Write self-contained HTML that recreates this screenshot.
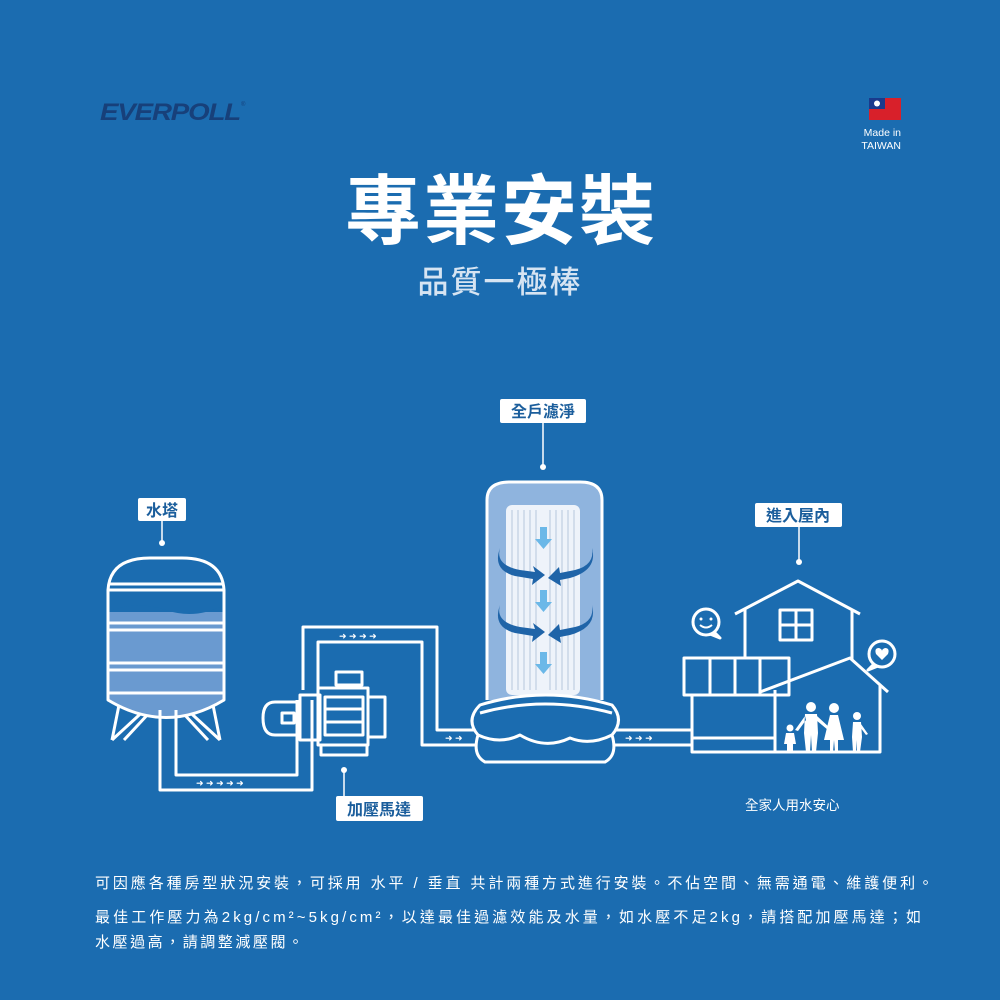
<!DOCTYPE html>
<html><head><meta charset="utf-8"><style>
body{margin:0;width:1000px;height:1000px;background:#1b6cb0;overflow:hidden;font-family:"Liberation Sans","Noto Sans CJK TC",sans-serif;}
svg{position:absolute;left:0;top:0}
</style></head><body>
<svg width="1000" height="1000" viewBox="0 0 1000 1000" font-family="Liberation Sans, Noto Sans CJK TC, sans-serif">
<rect width="1000" height="1000" fill="#1b6cb0"/>
<!-- logo -->
<text x="100" y="120" font-size="24" font-weight="bold" font-style="italic" fill="#17407a" letter-spacing="-1" textLength="140" lengthAdjust="spacingAndGlyphs">EVERPOLL</text>
<text x="241" y="106" font-size="6" fill="#17407a">®</text>
<!-- flag -->
<rect x="869" y="98" width="32" height="22" fill="#d8202a"/>
<rect x="869" y="98" width="16" height="11" fill="#1a3a8c"/>
<circle cx="877" cy="103.5" r="3" fill="#fff"/>
<text x="901" y="136" font-size="10.5" fill="#fff" text-anchor="end">Made in</text>
<text x="901" y="149" font-size="10.5" fill="#fff" text-anchor="end">TAIWAN</text>
<!-- titles -->
<text x="501" y="238" font-size="76" font-weight="bold" fill="#fff" text-anchor="middle" letter-spacing="2">專業安裝</text>
<text x="500" y="293" font-size="31" font-weight="500" fill="#d6e4f2" text-anchor="middle" letter-spacing="2">品質一極棒</text>

<g stroke="#fff" stroke-width="3" fill="none" stroke-linejoin="round">
<!-- tank -->
<path d="M112 740 L120 700 M220 740 L212 700 M112 740 L150 705 M220 740 L182 705 M124 740 L150 712 M208 740 L182 712" />
<path d="M108 612 L108 700 Q166 735 224 700 L224 612" fill="#6a9ad0" stroke="none"/>
<path d="M108 612 Q135 600 166 610 Q195 620 224 605 L224 590 L108 590Z" fill="#1b6cb0" stroke="none"/>
<path d="M108 590 Q110 558 150 558 L182 558 Q222 558 224 590 L224 700 Q166 735 108 700 Z"/>
<path d="M108 584 L224 584 M108 590 L224 590 M108 623 L224 623 M108 630 L224 630 M108 663 L224 663 M108 670 L224 670 M108 693 L224 693"/>
<!-- pipe tank->pump -->
<path d="M160 710 L160 790 L312 790 L312 700 M176 710 L176 775 L297 775 L297 700" fill="none"/>
<!-- pump -->
<path d="M275 702 L300 702 L300 735 L275 735 Q263 735 263 718 Q263 702 275 702Z"/>
<rect x="282" y="713" width="12" height="10"/>
<rect x="300" y="695" width="20" height="45"/>
<rect x="318" y="688" width="50" height="57"/>
<rect x="368" y="697" width="17" height="40"/>
<rect x="325" y="697" width="38" height="38"/>
<path d="M325 709 L363 709 M325 722 L363 722"/>
<rect x="321" y="745" width="46" height="10"/>
<rect x="336" y="672" width="26" height="13"/>
<path d="M341 685 L341 688 M357 685 L357 688"/>
<!-- pipe pump->filter -->
<path d="M303 690 L303 627 L437 627 L437 730 L485 730 M318 690 L318 642 L422 642 L422 745 L485 745"/>
<!-- pipe filter->house -->
<path d="M612 730 L692 730 M612 745 L692 745"/>
<!-- filter -->
<path d="M487 700 L487 500 Q487 482 510 482 L580 482 Q602 482 602 500 L602 700" fill="#8fb4de"/>
<rect x="506" y="505" width="74" height="190" rx="6" fill="#eef3fa" stroke="none"/>
<path d="M480 705 Q545 685 612 705 Q625 720 612 735 Q618 755 605 762 L485 762 Q472 755 478 735 Q465 720 480 705Z" fill="#1b6cb0"/>
<path d="M480 713 Q545 695 612 713 M478 735 Q500 745 520 735 Q545 750 570 738 Q590 746 612 735"/>
<!-- house -->
<path d="M735 614 L798 581 L860 614 M745 609 L745 658 M852 609 L852 660"/>
<rect x="780" y="610" width="32" height="30"/>
<path d="M796 610 L796 640 M780 625 L812 625"/>
<rect x="684" y="658" width="105" height="37"/>
<path d="M710 658 L710 695 M735 658 L735 695 M760 658 L760 695"/>
<path d="M692 695 L692 752 L775 752 M692 738 L775 738"/>
<path d="M760 692 L850 658 L888 692 M775 690 L775 752 L880 752 L880 685"/>
<circle cx="706" cy="622" r="13"/><path d="M714 632 L720 638 L710 634"/>
<circle cx="882" cy="654" r="13"/><path d="M874 664 L868 670 L878 666"/>
</g>
<g fill="#fff">
<circle cx="701" cy="619" r="1.5"/><circle cx="711" cy="619" r="1.5"/>
<path d="M700 625 Q706 630 712 625" stroke="#fff" stroke-width="2" fill="none"/>
<path d="M882 660 L876 654 Q874 648 879 648 Q882 649 882 651 Q882 649 885 648 Q890 648 888 654Z"/>
<!-- family -->
<circle cx="811" cy="707" r="5"/><path d="M805 714 L817 714 L818 733 L816 752 L812 752 L811 735 L810 752 L806 752 L804 733Z M805 716 L795 730 L798 731 L806 720Z M817 716 L830 728 L828 730 L816 720Z"/>
<circle cx="834" cy="708" r="5"/><path d="M830 715 L838 715 L844 740 L838 740 L838 752 L835 752 L834 740 L833 752 L830 752 L830 740 L824 740Z"/>
<circle cx="857" cy="716" r="4"/><path d="M853 722 L861 722 L862 737 L860 752 L857 752 L857 740 L856 752 L853 752 L852 737Z M861 724 L868 734 L866 735 L860 727Z"/>
<circle cx="790" cy="728" r="3.5"/><path d="M786 733 L794 733 L796 744 L793 744 L793 752 L787 752 L787 744 L784 744Z"/>
</g>
<!-- filter stripes -->
<g stroke="#c8d6e6" stroke-width="1.5">
<path d="M512 510 V690 M518 510 V690 M524 510 V690 M530 510 V690 M536 510 V690 M550 510 V690 M556 510 V690 M562 510 V690 M568 510 V690 M574 510 V690"/>
</g>
<!-- down arrows -->
<g fill="#6bb8e8">
<path d="M540 527 h7 v12 h5 l-8.5 10 -8.5-10 h5z"/>
<path d="M540 590 h7 v12 h5 l-8.5 10 -8.5-10 h5z"/>
<path d="M540 652 h7 v12 h5 l-8.5 10 -8.5-10 h5z"/>
</g>
<!-- swirl arrows -->
<g fill="#1f64a8">
<path d="M500 548 Q495 565 520 570 L535 572 L533 566 L545 575 L532 585 L533 579 L515 576 Q492 570 500 548Z"/>
<path d="M592 548 Q598 570 570 578 L560 580 L561 586 L548 578 L559 567 L560 573 L575 570 Q595 565 592 548Z"/>
<path d="M500 605 Q495 622 520 627 L535 629 L533 623 L545 632 L532 642 L533 636 L515 633 Q492 627 500 605Z"/>
<path d="M592 605 Q598 627 570 635 L560 637 L561 643 L548 635 L559 624 L560 630 L575 627 Q595 622 592 605Z"/>
</g>
<!-- flow arrows -->
<g fill="#fff" font-size="9">
<text x="196" y="786">➜ ➜ ➜ ➜ ➜</text>
<text x="339" y="639">➜ ➜ ➜ ➜</text>
<text x="445" y="741">➜ ➜</text>
<text x="625" y="741">➜ ➜ ➜</text>
</g>
<!-- labels -->
<g stroke="#fff" stroke-width="1.5"><path d="M162 520 V543 M543 422 V467 M799 526 V562 M344 770 V796"/></g>
<g fill="#fff"><circle cx="162" cy="543" r="3"/><circle cx="543" cy="467" r="3"/><circle cx="799" cy="562" r="3"/><circle cx="344" cy="770" r="3"/>
<rect x="138" y="498" width="48" height="23" rx="2"/>
<rect x="500" y="399" width="86" height="24" rx="2"/>
<rect x="755" y="503" width="87" height="24" rx="2"/>
<rect x="336" y="796" width="87" height="25" rx="2"/>
</g>
<g fill="#1b5e9c" font-size="16" font-weight="bold" text-anchor="middle">
<text x="162" y="516">水塔</text>
<text x="543" y="417">全戶濾淨</text>
<text x="798" y="521">進入屋內</text>
<text x="379" y="815">加壓馬達</text>
</g>
<text x="745" y="810" font-size="13.5" fill="#fff">全家人用水安心</text>
<g fill="#fff" font-size="15">
<text x="95" y="888" textLength="838" lengthAdjust="spacing">可因應各種房型狀況安裝，可採用 水平 / 垂直 共計兩種方式進行安裝。不佔空間、無需通電、維護便利。</text>
<text x="95" y="922" textLength="826" lengthAdjust="spacing">最佳工作壓力為2kg/cm²~5kg/cm²，以達最佳過濾效能及水量，如水壓不足2kg，請搭配加壓馬達；如</text>
<text x="95" y="947" textLength="208" lengthAdjust="spacing">水壓過高，請調整減壓閥。</text>
</g>
</svg>
</body></html>
